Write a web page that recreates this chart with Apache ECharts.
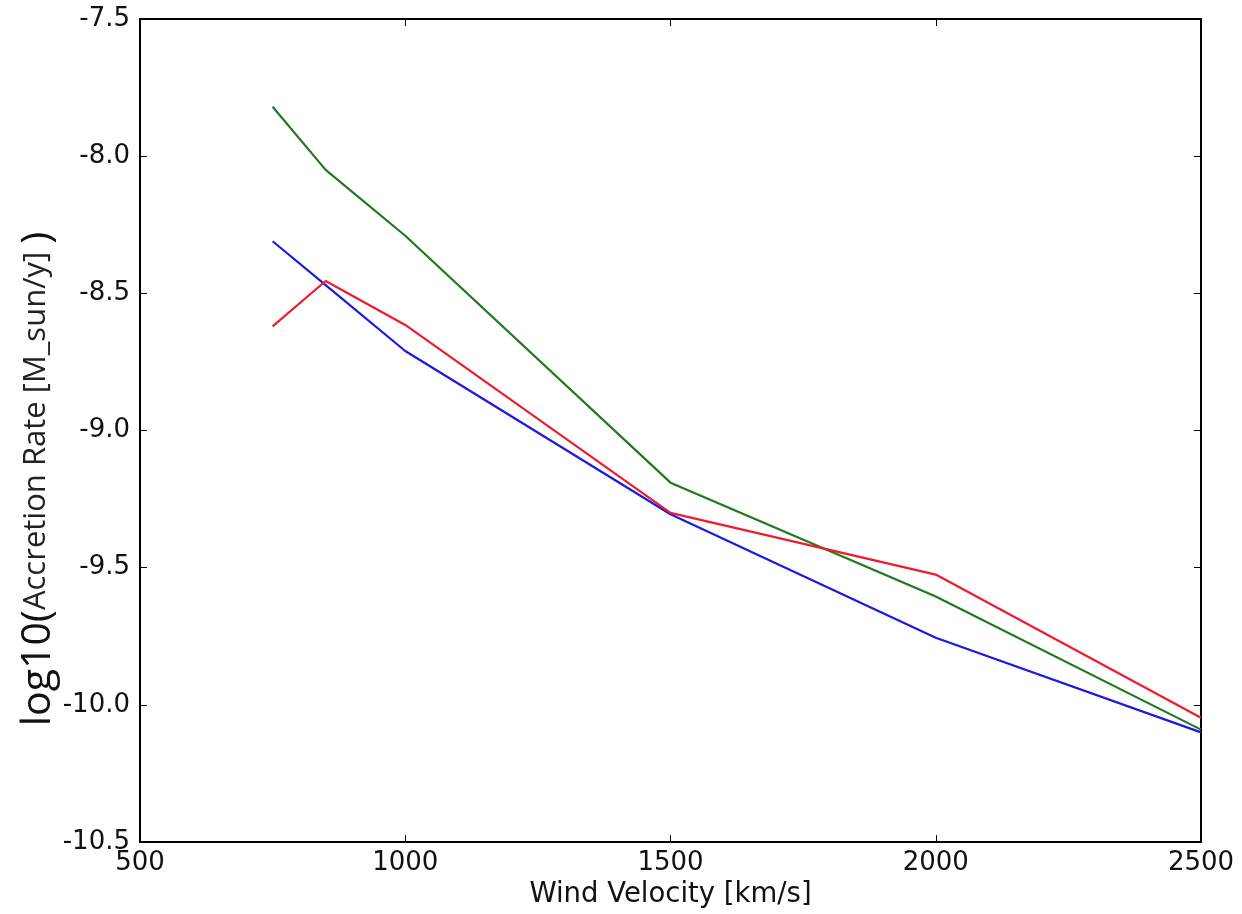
<!DOCTYPE html>
<html>
<head>
<meta charset="utf-8">
<script src="https://cdn.jsdelivr.net/npm/echarts@6/dist/echarts.min.js"></script>
<style>
html,body{margin:0;padding:0;background:#fff;}
#chart{width:1242px;height:914px;}
</style>
</head>
<body>
<div id="chart"></div>
<script>
var velocities = [750, 850, 1000, 1500, 2000, 2500];
var blueSeries = [-8.31, -8.47, -8.71, -9.305, -9.755, -10.10];
var greenSeries = [-7.82, -8.05, -8.29, -9.19, -9.605, -10.09];
var redSeries = [-8.62, -8.455, -8.615, -9.30, -9.525, -10.047];
var xTicks = [500, 1000, 1500, 2000, 2500];
var yTicks = [-10.5, -10.0, -9.5, -9.0, -8.5, -8.0, -7.5];

function pairs(xs, ys) { return xs.map(function (x, i) { return [x, ys[i]]; }); }

var FONT = 'DejaVu Sans';
var LFONT = 'Open Sans';
var chart = echarts.init(document.getElementById('chart'), null, {renderer: 'canvas'});

var axisLine = {show: true, onZero: false, lineStyle: {color: '#000', width: 2}};
var axisTick = {show: true, inside: true, length: 7, lineStyle: {color: '#000', width: 1}};

chart.setOption({
  animation: false,
  backgroundColor: '#fff',
  grid: {left: 140, right: 41, top: 19, bottom: 69, containLabel: false},
  xAxis: [{
    type: 'value', min: xTicks[0], max: xTicks[xTicks.length - 1], interval: 500,
    position: 'bottom',
    axisLine: axisLine, axisTick: axisTick, splitLine: {show: false},
    axisLabel: {color: '#111', fontFamily: FONT, fontSize: 26, margin: 8,
      formatter: function (v) { return String(v); }},
    name: 'Wind Velocity [km/s]', nameLocation: 'middle', nameGap: 37,
    nameTextStyle: {color: '#111', fontFamily: FONT, fontSize: 27.5}
  }, {
    type: 'value', min: xTicks[0], max: xTicks[xTicks.length - 1], interval: 500,
    position: 'top',
    axisLine: axisLine, axisTick: axisTick, splitLine: {show: false},
    axisLabel: {show: false}
  }],
  yAxis: [{
    type: 'value', min: yTicks[0], max: yTicks[yTicks.length - 1], interval: 0.5,
    position: 'left',
    axisLine: axisLine, axisTick: axisTick, splitLine: {show: false},
    axisLabel: {color: '#111', fontFamily: FONT, fontSize: 26, margin: 10,
      formatter: function (v) { return v.toFixed(1); }}
  }, {
    type: 'value', min: yTicks[0], max: yTicks[yTicks.length - 1], interval: 0.5,
    position: 'right',
    axisLine: axisLine, axisTick: axisTick, splitLine: {show: false},
    axisLabel: {show: false}
  }],
  graphic: [{
    type: 'text',
    x: 37, y: 479,
    rotation: Math.PI / 2,
    style: {
      text: '{a|log10(}{b|Accretion Rate [M_sun/y] }{a|)}',
      fill: '#111',
      align: 'center',
      verticalAlign: 'middle',
      rich: {
        a: {fontFamily: LFONT, fontSize: 41, fill: '#111', verticalAlign: 'bottom', lineHeight: 44},
        b: {fontFamily: LFONT, fontSize: 31, fill: '#222', verticalAlign: 'bottom', lineHeight: 34, padding: [0, 0, 7, 0]}
      }
    }
  }],
  series: [{
    type: 'line', name: 'blue', data: pairs(velocities, blueSeries),
    showSymbol: false, symbol: 'none', lineStyle: {color: '#1a1ae0', width: 2.2}, z: 3
  }, {
    type: 'line', name: 'green', data: pairs(velocities, greenSeries),
    showSymbol: false, symbol: 'none', lineStyle: {color: '#1f7a1f', width: 2.2}, z: 4
  }, {
    type: 'line', name: 'red', data: pairs(velocities, redSeries),
    showSymbol: false, symbol: 'none', lineStyle: {color: '#ee1c2c', width: 2.2}, z: 5
  }]
});
</script>
</body>
</html>
